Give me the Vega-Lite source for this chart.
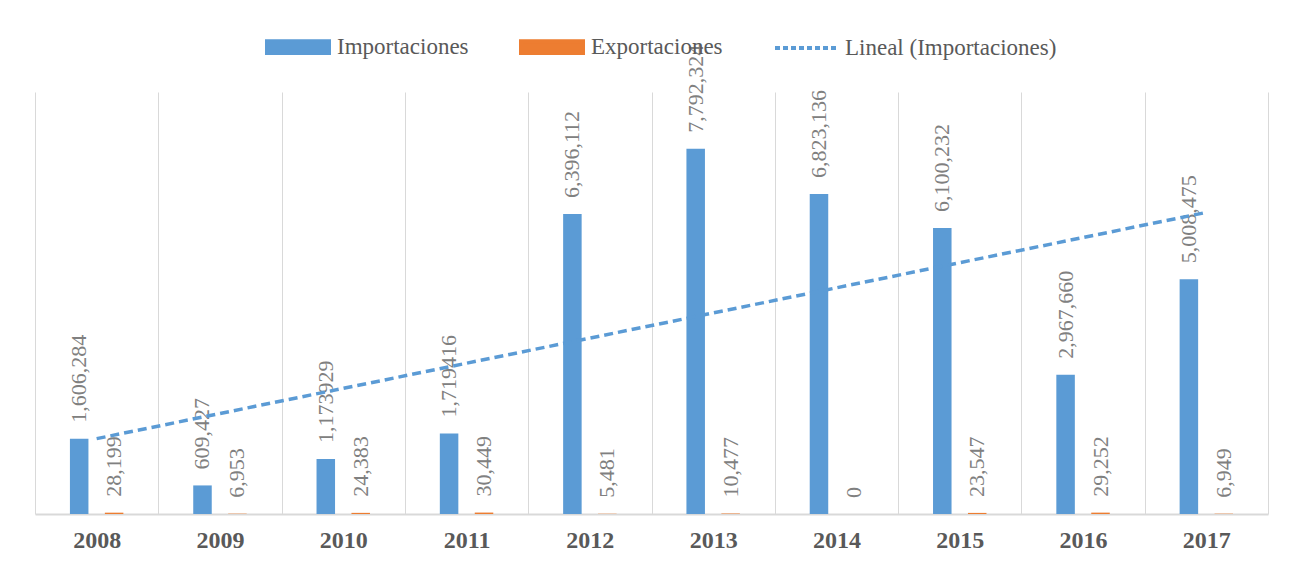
{
  "$schema": "https://vega.github.io/schema/vega-lite/v6.json",
  "width": 1233,
  "height": 422,
  "autosize": {"type": "none"},
  "padding": {"left": 35, "top": 92, "right": 30, "bottom": 52},
  "background": "white",
  "config": {"view": {"stroke": null}, "font": "Liberation Serif, serif"},
  "data": {
    "values": [
      {"year": 2008, "serie": "Importaciones", "value": 1606284, "label": "1,606,284"},
      {"year": 2008, "serie": "Exportaciones", "value": 28199, "label": "28,199"},
      {"year": 2009, "serie": "Importaciones", "value": 609427, "label": "609,427"},
      {"year": 2009, "serie": "Exportaciones", "value": 6953, "label": "6,953"},
      {"year": 2010, "serie": "Importaciones", "value": 1173929, "label": "1,173929"},
      {"year": 2010, "serie": "Exportaciones", "value": 24383, "label": "24,383"},
      {"year": 2011, "serie": "Importaciones", "value": 1719416, "label": "1,719416"},
      {"year": 2011, "serie": "Exportaciones", "value": 30449, "label": "30,449"},
      {"year": 2012, "serie": "Importaciones", "value": 6396112, "label": "6,396,112"},
      {"year": 2012, "serie": "Exportaciones", "value": 5481, "label": "5,481"},
      {"year": 2013, "serie": "Importaciones", "value": 7792324, "label": "7,792,324"},
      {"year": 2013, "serie": "Exportaciones", "value": 10477, "label": "10,477"},
      {"year": 2014, "serie": "Importaciones", "value": 6823136, "label": "6,823,136"},
      {"year": 2014, "serie": "Exportaciones", "value": 0, "label": "0"},
      {"year": 2015, "serie": "Importaciones", "value": 6100232, "label": "6,100,232"},
      {"year": 2015, "serie": "Exportaciones", "value": 23547, "label": "23,547"},
      {"year": 2016, "serie": "Importaciones", "value": 2967660, "label": "2,967,660"},
      {"year": 2016, "serie": "Exportaciones", "value": 29252, "label": "29,252"},
      {"year": 2017, "serie": "Importaciones", "value": 5008475, "label": "5,008,475"},
      {"year": 2017, "serie": "Exportaciones", "value": 6949, "label": "6,949"}
    ]
  },
  "encoding": {
    "x": {
      "field": "year",
      "type": "ordinal",
      "scale": {"paddingInner": 0, "paddingOuter": 0},
      "axis": {
        "title": null,
        "grid": true,
        "gridColor": "#D9D9D9",
        "gridWidth": 1,
        "tickBand": "extent",
        "ticks": false,
        "domainColor": "#D9D9D9",
        "domainWidth": 2,
        "labelFont": "Liberation Serif, serif",
        "labelFontWeight": "bold",
        "labelFontSize": 24,
        "labelColor": "#595959",
        "labelPadding": 14,
        "labelAngle": 0
      }
    },
    "y": {
      "field": "value",
      "type": "quantitative",
      "scale": {"domain": [0, 9000000], "nice": false, "zero": true},
      "axis": null
    }
  },
  "layer": [
    {
      "mark": {"type": "bar"},
      "encoding": {
        "xOffset": {
          "field": "serie",
          "type": "nominal",
          "scale": {"domain": ["Importaciones", "Exportaciones"], "paddingInner": 0.47, "paddingOuter": 1.16}
        },
        "color": {
          "field": "serie",
          "type": "nominal",
          "scale": {
            "domain": ["Importaciones", "Exportaciones", "Lineal (Importaciones)"],
            "range": ["#5B9BD5", "#ED7D31", "#5B9BD5"]
          },
          "legend": {
            "title": null,
            "orient": "none",
            "direction": "horizontal",
            "legendX": 230,
            "legendY": -78,
            "padding": 0,
            "columnPadding": 44,
            "labelFont": "Liberation Serif, serif",
            "labelFontSize": 23,
            "labelColor": "#595959",
            "labelOffset": 6,
            "labelLimit": 500,
            "symbolSize": 3844,
            "encode": {
              "symbols": {
                "update": {
                  "shape": [
                    {"test": "datum.value === 'Lineal (Importaciones)'", "value": "M-1,0H1"},
                    {"value": "M-1,-0.19H1V0.19H-1Z"}
                  ],
                  "fill": [
                    {"test": "datum.value === 'Lineal (Importaciones)'", "value": "transparent"},
                    {"test": "datum.value === 'Exportaciones'", "value": "#ED7D31"},
                    {"value": "#5B9BD5"}
                  ],
                  "stroke": [
                    {"test": "datum.value === 'Lineal (Importaciones)'", "value": "#5B9BD5"},
                    {"value": "transparent"}
                  ],
                  "strokeWidth": {"value": 4},
                  "strokeDash": [
                    {"test": "datum.value === 'Lineal (Importaciones)'", "value": [5, 3]},
                    {"value": []}
                  ],
                  "opacity": {"value": 1}
                }
              }
            }
          }
        }
      }
    },
    {
      "mark": {
        "type": "text",
        "angle": 270,
        "align": "left",
        "baseline": "middle",
        "dx": 16,
        "fontSize": 22,
        "font": "Liberation Serif, serif",
        "color": "#808080"
      },
      "encoding": {
        "xOffset": {"field": "serie", "type": "nominal"},
        "text": {"field": "label"}
      }
    },
    {
      "transform": [
        {"filter": "datum.serie === 'Importaciones'"},
        {"regression": "value", "on": "year"}
      ],
      "mark": {"type": "line", "strokeDash": [9, 5], "strokeWidth": 3.5},
      "encoding": {
        "color": {"datum": "Lineal (Importaciones)"}
      }
    }
  ]
}
